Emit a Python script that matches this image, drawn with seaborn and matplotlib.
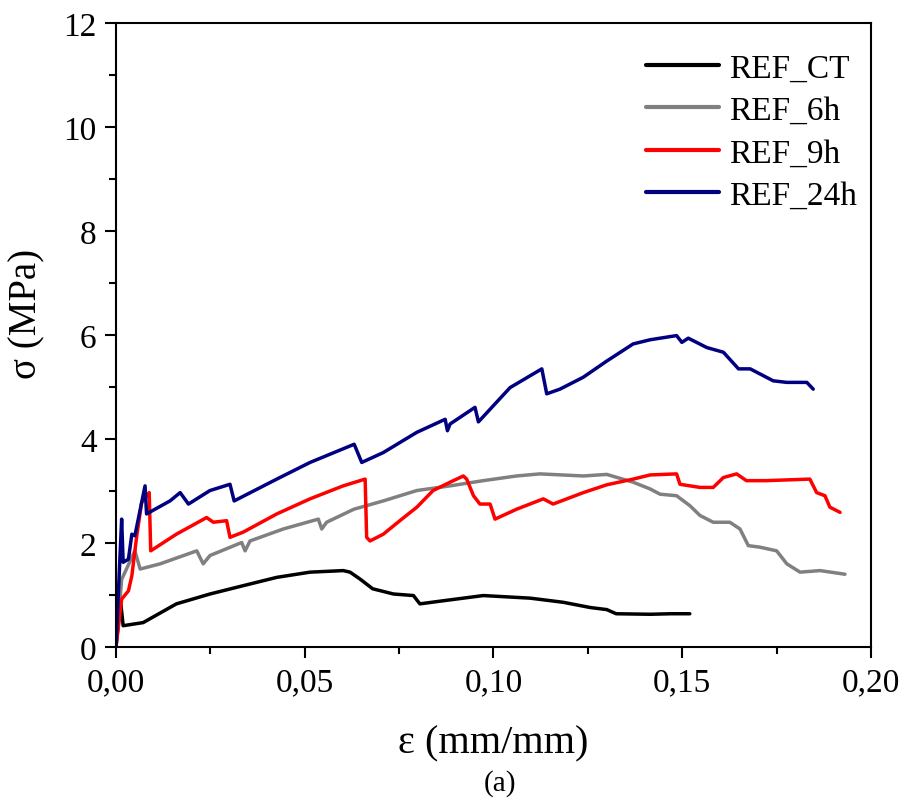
import numpy as np
import pandas as pd
import matplotlib
matplotlib.use("Agg")
import matplotlib.pyplot as plt
from matplotlib.ticker import MultipleLocator, FuncFormatter
import seaborn as sns

# ---- data ----
ct_x = [0.0, 0.0012, 0.0019, 0.0072, 0.016, 0.0249, 0.0337, 0.0426, 0.0514, 0.0602, 0.062,
        0.0646, 0.068, 0.0735, 0.0788, 0.0805, 0.0867, 0.0973, 0.1097, 0.1185, 0.1256,
        0.1300, 0.1325, 0.1415, 0.1470, 0.1520]
ct_y = [0.0, 0.89, 0.41, 0.47, 0.83, 1.02, 1.18, 1.34, 1.44, 1.47, 1.44,
        1.31, 1.12, 1.02, 0.99, 0.83, 0.89, 0.99, 0.94, 0.86, 0.76,
        0.72, 0.64, 0.63, 0.64, 0.64]

h6_x = [0.0, 0.0015, 0.0050, 0.0064, 0.0117, 0.0214, 0.0231, 0.0249, 0.0333, 0.0342, 0.0355,
        0.0443, 0.0536, 0.0545, 0.0558, 0.0630, 0.0708, 0.0797, 0.0885, 0.0973, 0.1061,
        0.1123, 0.1238, 0.1300, 0.1370, 0.1415, 0.1441, 0.1485, 0.1520, 0.1547, 0.1582,
        0.1626, 0.1653, 0.1675, 0.1706, 0.1750, 0.1777, 0.1812, 0.1865, 0.1931]
h6_y = [0.0, 1.30, 1.85, 1.50, 1.60, 1.85, 1.60, 1.76, 2.01, 1.85, 2.04,
        2.27, 2.46, 2.27, 2.40, 2.65, 2.81, 3.01, 3.10, 3.20, 3.29,
        3.33, 3.29, 3.32, 3.17, 3.04, 2.94, 2.91, 2.72, 2.53, 2.40,
        2.40, 2.27, 1.95, 1.92, 1.85, 1.60, 1.44, 1.47, 1.40]

h9_x = [0.0, 0.0015, 0.0033, 0.0042, 0.0055, 0.0068, 0.0088, 0.0092, 0.016, 0.024, 0.0258,
        0.0293, 0.0302, 0.0337, 0.0426, 0.0514, 0.0602, 0.0660, 0.0664, 0.0673, 0.0708,
        0.0752, 0.0797, 0.0840, 0.0885, 0.0920, 0.0929, 0.0947, 0.0964, 0.0991, 0.1004,
        0.1061, 0.1132, 0.1158, 0.1238, 0.1300, 0.1370, 0.1415, 0.1485, 0.1494, 0.1547,
        0.1582, 0.1609, 0.1644, 0.1670, 0.1723, 0.1838, 0.1856, 0.1878, 0.1891, 0.1918]
h9_y = [0.0, 0.92, 1.08, 1.37, 2.14, 2.78, 2.97, 1.85, 2.17, 2.49, 2.40,
        2.43, 2.11, 2.21, 2.56, 2.85, 3.10, 3.23, 2.11, 2.04, 2.17,
        2.43, 2.69, 3.01, 3.17, 3.29, 3.23, 2.91, 2.75, 2.75, 2.46,
        2.65, 2.85, 2.75, 2.97, 3.12, 3.23, 3.31, 3.33, 3.13, 3.07,
        3.07, 3.26, 3.33, 3.20, 3.20, 3.23, 2.97, 2.91, 2.69, 2.59]

h24_x = [0.0, 0.0015, 0.0019, 0.0033, 0.0042, 0.0050, 0.0077, 0.0081, 0.0143, 0.0170, 0.0192,
         0.0249, 0.0302, 0.0313, 0.0426, 0.0514, 0.0631, 0.0651, 0.0708, 0.0797, 0.0872,
         0.0878, 0.0885, 0.0951, 0.0960, 0.1044, 0.1128, 0.1141, 0.1176, 0.1238, 0.1300,
         0.1370, 0.1415, 0.1485, 0.1499, 0.1516, 0.1565, 0.1609, 0.1649, 0.1680, 0.1741,
         0.1777, 0.1830, 0.1847]
h24_y = [0.0, 2.46, 1.63, 1.69, 2.17, 2.14, 3.10, 2.56, 2.81, 2.97, 2.75,
         3.01, 3.13, 2.81, 3.23, 3.55, 3.90, 3.55, 3.74, 4.13, 4.38,
         4.16, 4.29, 4.61, 4.33, 4.99, 5.35, 4.87, 4.96, 5.19, 5.50,
         5.83, 5.91, 5.99, 5.86, 5.94, 5.76, 5.67, 5.35, 5.35, 5.12,
         5.09, 5.09, 4.96]

series_names = ["REF_CT", "REF_6h", "REF_9h", "REF_24h"]
series_colors = ["#000000", "#808080", "#FF0000", "#000080"]
x_label = "ε (mm/mm)"
y_label = "σ (MPa)"
caption = "(a)"

frames = []
for name, xs, ys in zip(series_names, [ct_x, h6_x, h9_x, h24_x], [ct_y, h6_y, h9_y, h24_y]):
    frames.append(pd.DataFrame({"eps": xs, "sigma": ys, "series": name}))
df = pd.concat(frames, ignore_index=True)

sns.set_theme(style="ticks")
plt.rcParams["font.family"] = ["Liberation Serif", "DejaVu Serif"]
plt.rcParams["text.color"] = "black"
plt.rcParams["axes.labelcolor"] = "black"
plt.rcParams["xtick.color"] = "black"
plt.rcParams["ytick.color"] = "black"

fig = plt.figure(figsize=(9.04, 8.04), dpi=100)
ax = fig.add_axes([0.1283, 0.194, 0.8352, 0.776])

sns.lineplot(data=df, x="eps", y="sigma", hue="series", hue_order=series_names,
             palette=dict(zip(series_names, series_colors)), estimator=None, sort=False,
             linewidth=2.5, ax=ax)

ax.set_xlim(0, 0.20)
ax.set_ylim(0, 12)
ax.xaxis.set_major_locator(MultipleLocator(0.05))
ax.xaxis.set_minor_locator(MultipleLocator(0.025))
ax.yaxis.set_major_locator(MultipleLocator(2))
ax.yaxis.set_minor_locator(MultipleLocator(1))
ax.xaxis.set_major_formatter(FuncFormatter(lambda v, p: f"{v:.2f}".replace(".", ",")))
ax.yaxis.set_major_formatter(FuncFormatter(lambda v, p: f"{int(round(v))}"))

for s in ax.spines.values():
    s.set_linewidth(1.5)
    s.set_color("black")
ax.tick_params(which="major", direction="out", length=8, width=1.5, labelsize=24,
               colors="black", pad=6)
ax.tick_params(which="minor", direction="out", length=5, width=1.5, colors="black")
ax.tick_params(top=False, right=False, which="both")

ax.set_xlabel(x_label, fontsize=29, labelpad=20, color="black")
ax.set_ylabel(y_label, fontsize=28, labelpad=14, color="black")
ax.yaxis.set_label_coords(-0.094, 0.535)
fig.text(0.553, 0.025, caption, fontsize=21, ha="center", va="center", color="black")

leg = ax.legend(loc="upper left", bbox_to_anchor=(0.702, 0.952), frameon=False,
                fontsize=24, handlelength=2.2, handletextpad=0.3, labelspacing=0.36,
                borderpad=0, borderaxespad=0)
for line in leg.get_lines():
    line.set_linewidth(3)
for t in leg.get_texts():
    t.set_color("black")

fig.savefig("out.png", dpi=100, facecolor="white")
